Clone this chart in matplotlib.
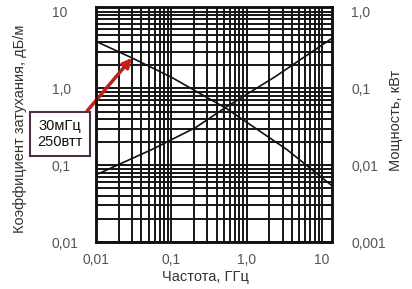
import numpy as np
import matplotlib
matplotlib.use("Agg")
import matplotlib.pyplot as plt
from matplotlib.ticker import FixedLocator, NullFormatter

plt.rcParams['font.family'] = ['Liberation Sans', 'DejaVu Sans']

# данные
freq_att = [0.01, 0.03, 0.1, 0.55, 3.4, 13.5]
att = [4.1, 2.5, 1.4, 0.54, 0.16, 0.054]
freq_pow = [0.01, 0.055, 0.21, 0.53, 2.4, 13.5]
power = [0.0075, 0.016, 0.031, 0.057, 0.143, 0.45]   # кВт

x_ticks = [0.01, 0.1, 1, 10]
x_labels = ['0,01', '0,1', '1,0', '10']
yl_ticks = [0.01, 0.1, 1, 10]
yl_labels = ['0,01', '0,1', '1,0', '10']
yr_ticks = [0.001, 0.01, 0.1, 1]
yr_labels = ['0,001', '0,01', '0,1', '1,0']

W, H = 412, 289
fig = plt.figure(figsize=(W / 100, H / 100), dpi=100)
ax = fig.add_axes([96 / W, (H - 242) / H, 236 / W, 235 / H])
ax.set_xscale('log')
ax.set_yscale('log')
ax.set_xlim(0.01, 13.5)
ax.set_ylim(0.01, 11.5)

ax.grid(True, which='both', color='#151515', lw=1.4)
ax.set_axisbelow(True)

ax.plot(freq_att, att, color='#111111', lw=1.2)
ax2 = ax.twinx()
ax2.set_yscale('log')
ax2.set_ylim(0.001, 1.15)
ax2.plot(freq_pow, power, color='#111111', lw=1.2)

gray = '#555555'
ax.xaxis.set_major_locator(FixedLocator(x_ticks))
ax.set_xticklabels(x_labels)
ax.xaxis.set_minor_formatter(NullFormatter())
ax.yaxis.set_major_locator(FixedLocator(yl_ticks))
ax.set_yticklabels(yl_labels)
ax.yaxis.set_minor_formatter(NullFormatter())
ax2.yaxis.set_major_locator(FixedLocator(yr_ticks))
ax2.set_yticklabels(yr_labels)
ax2.yaxis.set_minor_formatter(NullFormatter())

ax.tick_params(axis='both', which='both', length=0, labelsize=10, labelcolor=gray)
ax.tick_params(axis='x', pad=8)
ax.tick_params(axis='y', pad=32)
for t in ax.get_yticklabels():
    t.set_ha('left')
ax2.tick_params(axis='both', which='both', length=0, labelsize=10, labelcolor=gray, pad=14)

for a in (ax, ax2):
    for s in a.spines.values():
        s.set_linewidth(1.8)
        s.set_color('#111111')

fig.text(205 / W, 1 - 277 / H, 'Частота, ГГц', ha='center', va='center', fontsize=10.5, color='#333333')
fig.text(20 / W, 1 - 129 / H, 'Коэффициент затухания, дБ/м', rotation=90,
         ha='center', va='center', fontsize=10.5, color='#333333')
fig.text(396 / W, 1 - 120 / H, 'Мощность, кВт', rotation=90,
         ha='center', va='center', fontsize=10.5, color='#333333')

ax.annotate('30мГц\n250втт', xy=(0.03, 2.5), xycoords='data',
            xytext=(60, H - 134), textcoords='figure pixels',
            ha='center', va='center', fontsize=10.5, color='#111111',
            bbox=dict(boxstyle='square,pad=0.5', fc='white', ec='#4a3048', lw=1.5),
            arrowprops=dict(arrowstyle='-|>,head_length=0.5,head_width=0.25',
                            color='#c0201c', lw=2.5, relpos=(0.95, 1.0),
                            shrinkA=0, shrinkB=0),
            annotation_clip=False, zorder=10)

fig.savefig('out.png', dpi=100)
